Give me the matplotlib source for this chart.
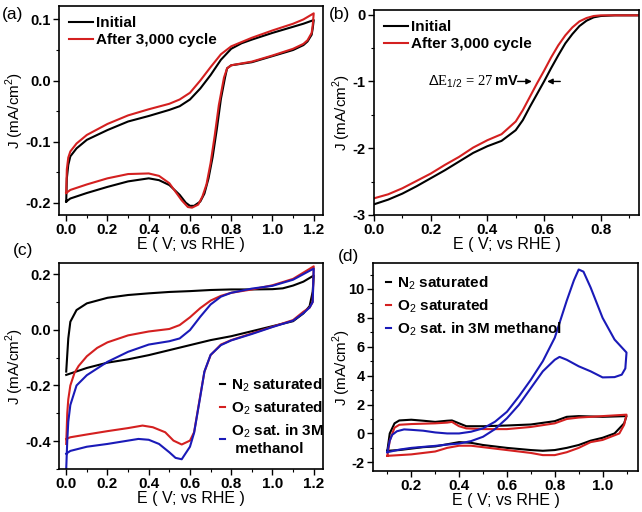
import matplotlib
matplotlib.use("Agg")
import matplotlib.pyplot as plt
from matplotlib.ticker import MultipleLocator
import numpy as np

plt.rcParams['font.family'] = ['Liberation Sans', 'DejaVu Sans']
plt.rcParams['mathtext.fontset'] = 'custom'
plt.rcParams['mathtext.rm'] = 'Liberation Sans'
plt.rcParams['mathtext.bf'] = 'Liberation Sans:bold'
plt.rcParams['axes.unicode_minus'] = False

BLACK = '#000000'
RED = '#d42020'
BLUE = '#1a1ab8'

# ---------------- Panel (a): CV before/after cycling ----------------
a_init_E = [0.0, 0.003, 0.01, 0.02, 0.05, 0.1, 0.2, 0.3, 0.4, 0.5, 0.55, 0.6, 0.65, 0.7, 0.75, 0.8, 0.85, 0.9, 1.0, 1.1, 1.15, 1.2,
            1.195, 1.19, 1.17, 1.15, 1.1, 1.0, 0.9, 0.8, 0.78, 0.77, 0.75, 0.73, 0.71, 0.69, 0.67, 0.65, 0.62, 0.6, 0.58, 0.55, 0.5, 0.45, 0.4, 0.3, 0.2, 0.1, 0.02, 0.0]
a_init_J = [-0.198, -0.16, -0.138, -0.124, -0.111, -0.097, -0.081, -0.067, -0.058, -0.048, -0.042, -0.031, -0.013, 0.009, 0.034, 0.052, 0.061, 0.067, 0.078, 0.088, 0.093, 0.099,
            0.085, 0.075, 0.064, 0.058, 0.050, 0.040, 0.030, 0.025, 0.020, 0.005, -0.030, -0.080, -0.125, -0.160, -0.185, -0.198, -0.205, -0.205, -0.200, -0.187, -0.171, -0.163, -0.160, -0.165, -0.174, -0.184, -0.193, -0.198]
a_after_E = [0.0, 0.003, 0.01, 0.02, 0.05, 0.1, 0.2, 0.3, 0.4, 0.5, 0.55, 0.6, 0.65, 0.7, 0.75, 0.8, 0.85, 0.9, 1.0, 1.1, 1.15, 1.2,
             1.195, 1.19, 1.17, 1.15, 1.1, 1.0, 0.9, 0.8, 0.78, 0.765, 0.74, 0.72, 0.70, 0.68, 0.66, 0.64, 0.61, 0.59, 0.56, 0.5, 0.45, 0.4, 0.3, 0.2, 0.1, 0.02, 0.0]
a_after_J = [-0.184, -0.145, -0.126, -0.116, -0.103, -0.089, -0.071, -0.057, -0.047, -0.038, -0.031, -0.020, 0.000, 0.022, 0.043, 0.056, 0.063, 0.070, 0.082, 0.093, 0.100, 0.110,
             0.090, 0.078, 0.066, 0.060, 0.052, 0.041, 0.031, 0.025, 0.020, 0.005, -0.040, -0.090, -0.135, -0.170, -0.190, -0.203, -0.208, -0.207, -0.196, -0.168, -0.156, -0.152, -0.153, -0.160, -0.170, -0.179, -0.184]

# ---------------- Panel (b): LSV ----------------
b_E = [0.0, 0.05, 0.1, 0.15, 0.2, 0.25, 0.3, 0.35, 0.4, 0.45, 0.5, 0.525, 0.55, 0.575, 0.6, 0.625, 0.65, 0.675, 0.7, 0.725, 0.75, 0.775, 0.8, 0.85, 0.95]
b_init_J = [-2.84, -2.77, -2.68, -2.57, -2.45, -2.33, -2.20, -2.07, -1.97, -1.89, -1.73, -1.58, -1.38, -1.19, -1.0, -0.80, -0.61, -0.43, -0.29, -0.17, -0.09, -0.04, -0.02, -0.01, -0.01]
b_after_J = [-2.75, -2.69, -2.60, -2.49, -2.38, -2.25, -2.13, -1.99, -1.88, -1.79, -1.60, -1.43, -1.23, -1.03, -0.84, -0.64, -0.46, -0.31, -0.19, -0.10, -0.05, -0.02, -0.01, -0.01, -0.01]

# ---------------- Panel (c): CV in N2 / O2 / O2+methanol ----------------
c_n2_E = [0.0, 0.005, 0.01, 0.02, 0.05, 0.1, 0.2, 0.3, 0.4, 0.5, 0.6, 0.7, 0.8, 0.9, 1.0, 1.05, 1.1, 1.15, 1.2,
          1.195, 1.18, 1.15, 1.1, 1.0, 0.9, 0.8, 0.7, 0.6, 0.5, 0.4, 0.3, 0.2, 0.1, 0.0]
c_n2_J = [-0.15, -0.09, -0.031, 0.029, 0.071, 0.095, 0.115, 0.125, 0.131, 0.136, 0.139, 0.143, 0.145, 0.145, 0.146, 0.149, 0.159, 0.173, 0.195,
          0.137, 0.085, 0.059, 0.031, 0.013, -0.005, -0.023, -0.037, -0.055, -0.073, -0.091, -0.106, -0.118, -0.137, -0.162]
c_o2_E = [0.0, 0.005, 0.01, 0.02, 0.04, 0.06, 0.1, 0.15, 0.2, 0.3, 0.4, 0.5, 0.55, 0.6, 0.65, 0.7, 0.75, 0.8, 0.9, 1.0, 1.1, 1.2,
          1.195, 1.18, 1.15, 1.1, 1.0, 0.9, 0.8, 0.75, 0.7, 0.67, 0.65, 0.62, 0.6, 0.56, 0.52, 0.48, 0.42, 0.37, 0.3, 0.2, 0.1, 0.02, 0.0]
c_o2_J = [-0.41, -0.30, -0.25, -0.20, -0.155, -0.13, -0.095, -0.065, -0.045, -0.02, -0.006, 0.003, 0.017, 0.045, 0.078, 0.105, 0.122, 0.133, 0.145, 0.160, 0.183, 0.228,
          0.10, 0.08, 0.065, 0.035, 0.011, -0.013, -0.037, -0.053, -0.091, -0.151, -0.236, -0.368, -0.398, -0.412, -0.398, -0.368, -0.350, -0.344, -0.353, -0.364, -0.376, -0.386, -0.392]
c_meoh_E = [0.0, 0.005, 0.01, 0.02, 0.05, 0.1, 0.2, 0.3, 0.4, 0.5, 0.55, 0.6, 0.65, 0.7, 0.75, 0.8, 0.9, 1.0, 1.1, 1.2,
            1.195, 1.18, 1.15, 1.1, 1.0, 0.9, 0.8, 0.75, 0.7, 0.67, 0.65, 0.62, 0.6, 0.56, 0.53, 0.5, 0.45, 0.4, 0.35, 0.3, 0.2, 0.1, 0.02, 0.0]
c_meoh_J = [-0.50, -0.40, -0.33, -0.27, -0.20, -0.163, -0.115, -0.079, -0.053, -0.041, -0.031, -0.001, 0.047, 0.091, 0.119, 0.133, 0.148, 0.158, 0.180, 0.220,
            0.10, 0.08, 0.06, 0.033, 0.010, -0.015, -0.038, -0.055, -0.090, -0.150, -0.240, -0.370, -0.420, -0.465, -0.460, -0.440, -0.410, -0.395, -0.392, -0.398, -0.410, -0.420, -0.435, -0.445]

# ---------------- Panel (d): methanol tolerance CV ----------------
d_n2_E = [0.1, 0.11, 0.13, 0.15, 0.2, 0.25, 0.3, 0.35, 0.37, 0.4, 0.43, 0.5, 0.6, 0.7, 0.8, 0.85, 0.9, 1.0, 1.1,
          1.09, 1.05, 1.0, 0.95, 0.9, 0.85, 0.8, 0.75, 0.7, 0.6, 0.5, 0.45, 0.4, 0.35, 0.3, 0.25, 0.2, 0.15, 0.1]
d_n2_J = [-1.2, 0.0, 0.7, 0.9, 0.95, 0.88, 0.8, 0.88, 0.9, 0.7, 0.5, 0.5, 0.55, 0.62, 0.85, 1.15, 1.2, 1.15, 1.2,
          0.7, 0.0, -0.3, -0.5, -0.8, -1.0, -1.15, -1.2, -1.15, -1.0, -0.8, -0.65, -0.6, -0.75, -0.9, -0.95, -1.05, -1.15, -1.2]
d_o2_E = [0.1, 0.11, 0.13, 0.15, 0.2, 0.3, 0.35, 0.37, 0.4, 0.43, 0.5, 0.6, 0.7, 0.8, 0.85, 0.9, 1.0, 1.1,
          1.09, 1.07, 1.0, 0.95, 0.9, 0.85, 0.8, 0.75, 0.7, 0.6, 0.5, 0.45, 0.4, 0.35, 0.3, 0.25, 0.2, 0.15, 0.1]
d_o2_J = [-1.55, -0.5, 0.4, 0.6, 0.65, 0.7, 0.75, 0.8, 0.5, 0.35, 0.3, 0.3, 0.45, 0.7, 1.0, 1.1, 1.2, 1.3,
          0.6, 0.0, -0.45, -0.6, -1.0, -1.3, -1.5, -1.5, -1.35, -1.15, -0.95, -0.85, -0.85, -1.0, -1.25, -1.35, -1.45, -1.5, -1.55]
d_meoh_E = [0.1, 0.11, 0.12, 0.14, 0.17, 0.2, 0.25, 0.3, 0.35, 0.4, 0.45, 0.5, 0.55, 0.6, 0.65, 0.7, 0.75, 0.8, 0.85, 0.88, 0.9, 0.92, 0.95, 1.0, 1.05, 1.1,
            1.095, 1.08, 1.05, 1.0, 0.95, 0.9, 0.85, 0.82, 0.8, 0.75, 0.7, 0.65, 0.6, 0.55, 0.5, 0.45, 0.4, 0.35, 0.3, 0.2, 0.15, 0.1]
d_meoh_J = [-1.3, -0.5, -0.1, 0.15, 0.28, 0.25, 0.19, 0.07, 0.0, 0.0, 0.12, 0.35, 0.81, 1.5, 2.56, 3.72, 5.0, 6.63, 9.19, 10.6, 11.35, 11.2, 10.1, 8.0, 6.5, 5.6,
            4.5, 4.07, 3.9, 3.88, 4.3, 4.65, 5.1, 5.3, 5.1, 4.3, 3.14, 1.98, 1.05, 0.3, -0.23, -0.53, -0.7, -0.77, -0.86, -1.0, -1.12, -1.3]

fig = plt.figure(figsize=(6.42, 5.12), dpi=100)
W, H = 642, 512

boxes = {'a': (59, 6, 323, 215), 'b': (374, 10, 639, 215),
         'c': (59, 263, 323, 469), 'd': (373, 263, 638, 471)}

def mkax(l, t, r, b):
    return fig.add_axes([l / W, 1 - b / H, (r - l) / W, (b - t) / H])

axa = mkax(*boxes['a'])
axb = mkax(*boxes['b'])
axc = mkax(*boxes['c'])
axd = mkax(*boxes['d'])

lw = 1.5
axa.plot(a_init_E, a_init_J, color=BLACK, lw=lw, label='Initial')
axa.plot(a_after_E, a_after_J, color=RED, lw=lw, label='After 3,000 cycle')
axa.set_xlim(-0.035, 1.245)
axa.set_ylim(-0.22, 0.122)
axa.xaxis.set_major_locator(MultipleLocator(0.2))
axa.xaxis.set_minor_locator(MultipleLocator(0.1))
axa.yaxis.set_minor_locator(MultipleLocator(0.05))
axa.set_yticks([-0.2, -0.1, 0.0, 0.1])

axb.plot(b_E, b_init_J, color=BLACK, lw=lw, label='Initial')
axb.plot(b_E, b_after_J, color=RED, lw=lw, label='After 3,000 cycle')
axb.set_xlim(0.0, 0.935)
axb.set_ylim(-3.0, 0.07)
axb.xaxis.set_major_locator(MultipleLocator(0.2))
axb.xaxis.set_minor_locator(MultipleLocator(0.1))
axb.yaxis.set_major_locator(MultipleLocator(1))
axb.yaxis.set_minor_locator(MultipleLocator(0.5))
axb.text(0.422, -1.0, r'$\Delta$E$_{1/2}$ = 27', family='Liberation Serif', fontsize=10.5,
         ha='right', va='center')
axb.text(0.426, -1.0, 'mV', fontsize=10.5, fontweight='bold', ha='left', va='center')
axb.annotate('', xy=(0.567, -1.0), xytext=(0.497, -1.0),
             arrowprops=dict(arrowstyle='-|>', color='black', lw=1.0, mutation_scale=8))
axb.annotate('', xy=(0.601, -1.0), xytext=(0.667, -1.0),
             arrowprops=dict(arrowstyle='-|>', color='black', lw=1.0, mutation_scale=8))

axc.plot(c_n2_E, c_n2_J, color=BLACK, lw=lw, label='N$_2$ saturated')
axc.plot(c_o2_E, c_o2_J, color=RED, lw=lw, label='O$_2$ saturated')
axc.plot(c_meoh_E, c_meoh_J, color=BLUE, lw=lw, label='O$_2$ sat. in 3M\n methanol')
axc.set_xlim(-0.035, 1.245)
axc.set_ylim(-0.5, 0.24)
axc.xaxis.set_major_locator(MultipleLocator(0.2))
axc.xaxis.set_minor_locator(MultipleLocator(0.1))
axc.yaxis.set_major_locator(MultipleLocator(0.2))
axc.yaxis.set_minor_locator(MultipleLocator(0.1))

axd.plot(d_n2_E, d_n2_J, color=BLACK, lw=lw, label='N$_2$ saturated')
axd.plot(d_o2_E, d_o2_J, color=RED, lw=lw, label='O$_2$ saturated')
axd.plot(d_meoh_E, d_meoh_J, color=BLUE, lw=lw, label='O$_2$ sat. in 3M methanol')
axd.set_xlim(0.04, 1.148)
axd.set_ylim(-2.6, 11.8)
axd.xaxis.set_minor_locator(MultipleLocator(0.1))
axd.yaxis.set_major_locator(MultipleLocator(2))
axd.yaxis.set_minor_locator(MultipleLocator(1))
axd.set_xticks([0.2, 0.4, 0.6, 0.8, 1.0])

# ylabel x centre (pixels)
ylabel_x = {'a': 15, 'b': 342, 'c': 15, 'd': 342}

for key, ax in zip('abcd', (axa, axb, axc, axd)):
    l, t, r, b = boxes[key]
    ax.tick_params(which='both', direction='out', top=False, right=False)
    ax.tick_params(which='major', length=4, width=1.0, pad=2)
    ax.tick_params(axis='x', which='major', labelsize=11)
    ax.tick_params(axis='y', which='major', labelsize=10.5)
    ax.tick_params(which='minor', length=2.5, width=0.8)
    for lab in ax.get_xticklabels() + ax.get_yticklabels():
        lab.set_fontweight('bold')
    for sp in ax.spines.values():
        sp.set_linewidth(1.2)
    ax.set_xlabel('E ( V; vs RHE )', fontsize=11.5, labelpad=0)
    ax.set_ylabel('J (mA/cm$^2$)', fontsize=11)
    ax.yaxis.set_label_coords((ylabel_x[key] - l) / (r - l), 0.5)
    ax.yaxis.label.set_verticalalignment('center')

leg_kw = dict(frameon=False, prop={'weight': 'bold', 'size': 11})
axa.legend(loc='upper left', handlelength=1.6, handletextpad=0.15, borderaxespad=0.25,
           labelspacing=0.2, **leg_kw)
axb.legend(loc='upper left', handlelength=1.6, handletextpad=0.15, borderaxespad=0.25,
           labelspacing=0.2, **leg_kw)
axc.legend(loc='upper left', bbox_to_anchor=(0.585, 0.48), handlelength=0.35,
           handletextpad=0.4, borderaxespad=0.0, labelspacing=0.35, **leg_kw)
axd.legend(loc='upper left', bbox_to_anchor=(0.025, 0.975), handlelength=0.35,
           handletextpad=0.4, borderaxespad=0.0, labelspacing=0.35, **leg_kw)

for lab, (x, y) in zip(['(a)', '(b)', '(c)', '(d)'],
                       [(2, 14), (329, 14), (13, 250), (338, 257)]):
    fig.text(x / W, 1 - y / H, lab, fontsize=12.5, ha='left', va='center')

fig.savefig('out.png', dpi=100)
